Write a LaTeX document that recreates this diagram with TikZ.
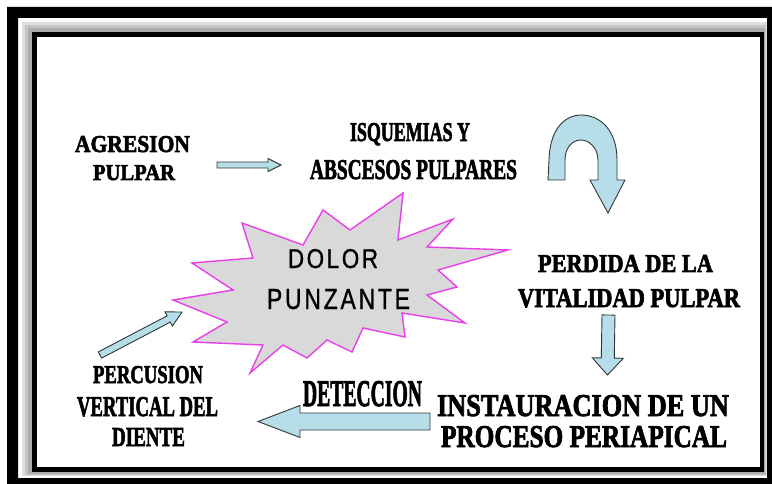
\documentclass[tikz,border=0pt]{standalone}
\usepackage{fontspec}
\usepackage{graphicx}
\usetikzlibrary{calc}
\setmainfont{Liberation Serif}
\newfontfamily\heavyserif[FakeBold=2.6]{Liberation Serif Bold}
\newfontfamily\starsans[LetterSpace=12,FakeBold=1.2]{Liberation Sans}
\definecolor{aqua}{RGB}{183,222,232}
\definecolor{arrline}{RGB}{45,55,58}
\definecolor{starfill}{RGB}{217,217,217}
\definecolor{starline}{RGB}{232,64,232}
\newcommand\fitline[3]{\resizebox{#1pt}{#2pt}{#3}}
\newcommand\blockarrow[6]{%
  \coordinate (#6) at ($(#2)!#5!(#1)$);
  \filldraw[arrsty] ($(#1)!#3!90:(#2)$) -- ($(#6)!#3!-90:(#1)$) -- ($(#6)!#4!-90:(#1)$)
    -- (#2) -- ($(#6)!#4!90:(#1)$) -- ($(#6)!#3!90:(#1)$) -- ($(#1)!#3!-90:(#2)$) -- cycle;}
\begin{document}
\begin{tikzpicture}[x=1pt,y=-1pt,
  arrsty/.style={fill=aqua,draw=arrline,line width=0.9pt,line join=miter},
  txt/.style={inner sep=0pt,anchor=base,font=\heavyserif},
  startxt/.style={inner sep=0pt,anchor=base,font=\starsans},
  starsty/.style={fill=starfill,draw=starline,line width=1.4pt,line join=miter}]
\useasboundingbox (0,0) rectangle (772,484);
\fill[white] (0,0) rectangle (772,484);
% frame
\fill[black,even odd rule] (7,7) rectangle (800,500) (18,18) rectangle (767,478);
\fill[gray!25] (22,22) rectangle (767,476);
\fill[gray!45] (25,25) rectangle (766,475);
\fill[gray!65] (28,28) rectangle (765,474);
\fill[black] (32,32) rectangle (764,472);
\fill[white] (37,37) rectangle (760,467);
% burst
\coordinate (star) at (330,285);
\filldraw[starsty] (173,300) -- (233,290) -- (192,263) -- (253,258) -- (242,223)
  -- (303,245) -- (323,210) -- (350,230) -- (403,193) -- (398,240) -- (453,219)
  -- (427,247) -- (508,250) -- (438,270) -- (457,287) -- (427,295) -- (465,323)
  -- (402,313) -- (405,337) -- (363,328) -- (352,352) -- (327,340) -- (307,358)
  -- (283,345) -- (250,373) -- (263,345) -- (193,342) -- (227,322) -- cycle;
\node[startxt] (dolor1) at (333,268) {\fitline{90}{19}{DOLOR}};
\node[startxt] (dolor2) at (338.5,309) {\fitline{143}{20}{PUNZANTE}};
% texts
\node[txt] (agr1) at (132.5,152) {\fitline{115}{16}{AGRESION}};
\node[txt] (agr2) at (134,180) {\fitline{82}{15}{PULPAR}};
\node[txt] (isq1) at (410,141) {\fitline{120}{18}{ISQUEMIAS Y}};
\node[txt] (isq2) at (413.5,179) {\fitline{207}{19}{ABSCESOS PULPARES}};
\node[txt] (per1) at (625.5,272) {\fitline{175}{17}{PERDIDA DE LA}};
\node[txt] (per2) at (629,307) {\fitline{222}{18}{VITALIDAD PULPAR}};
\node[txt] (ins1) at (583,416) {\fitline{292}{21}{INSTAURACION DE UN}};
\node[txt] (ins2) at (584,447) {\fitline{286}{21}{PROCESO PERIAPICAL}};
\node[txt] (det) at (362.5,406) {\fitline{119}{25}{DETECCION}};
\node[txt] (pc1) at (148,383) {\fitline{110}{17}{PERCUSION}};
\node[txt] (pc2) at (147.5,416) {\fitline{141}{19}{VERTICAL DEL}};
\node[txt] (pc3) at (148.5,446) {\fitline{73}{18}{DIENTE}};
% arrows
\coordinate (a1s) at (217,165); \coordinate (a1e) at (281,165);
\blockarrow{a1s}{a1e}{3pt}{6.5pt}{13pt}{a1h}
\coordinate (a2s) at (608.5,315); \coordinate (a2e) at (607.5,375);
\blockarrow{a2s}{a2e}{6.5pt}{15.5pt}{17pt}{a2h}
\coordinate (a3s) at (430,421.5); \coordinate (a3e) at (258,421.5);
\blockarrow{a3s}{a3e}{8.5pt}{16pt}{42pt}{a3h}
\coordinate (a4s) at (100,355); \coordinate (a4e) at (182,312);
\blockarrow{a4s}{a4e}{3.5pt}{8pt}{15pt}{a4h}
% U-turn arrow
\filldraw[arrsty] (548,180) -- (549,160) .. controls (550,125) and (568,115) .. (581,115)
  .. controls (600,115) and (617,130) .. (617,160) -- (617,180) -- (625,180)
  -- (608,213) -- (590,180) -- (598,180) -- (598,160)
  .. controls (598,148) and (589,140) .. (581,140)
  .. controls (572,140) and (565,148) .. (565,160) -- (565,180) -- cycle;
\end{tikzpicture}
\end{document}
